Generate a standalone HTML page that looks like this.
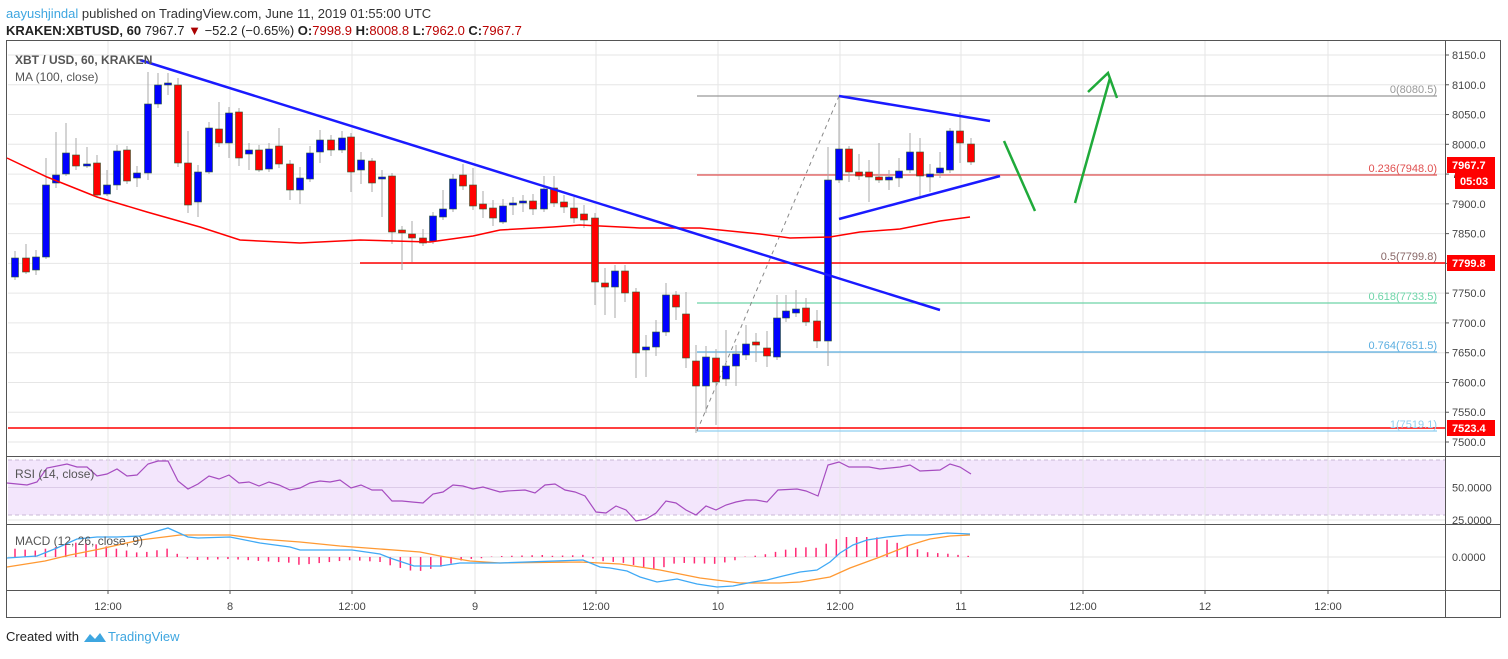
<!DOCTYPE html>
<html><head><meta charset="utf-8"><style>
body{margin:0;background:#fff;width:1508px;height:654px;overflow:hidden;font-family:"Liberation Sans",sans-serif}
</style></head><body>
<svg id="s" width="1508" height="654" xmlns="http://www.w3.org/2000/svg" font-family="Liberation Sans, sans-serif">
<text x="6" y="18" font-size="13" fill="#333"><tspan fill="#3ea6e0">aayushjindal</tspan> published on TradingView.com, June 11, 2019 01:55:00 UTC</text>
<text x="6" y="35" font-size="13" fill="#222"><tspan font-weight="bold">KRAKEN:XBTUSD, 60</tspan> 7967.7 <tspan fill="#a00">▼</tspan> −52.2 (−0.65%) <tspan font-weight="bold">O:</tspan><tspan fill="#b00">7998.9</tspan> <tspan font-weight="bold">H:</tspan><tspan fill="#b00">8008.8</tspan> <tspan font-weight="bold">L:</tspan><tspan fill="#b00">7962.0</tspan> <tspan font-weight="bold">C:</tspan><tspan fill="#b00">7967.7</tspan></text>
<rect x="6.5" y="40.5" width="1494" height="577" fill="none" stroke="#555"/>
<rect x="8" y="460" width="1437" height="55" fill="#f3e6fc"/>
<g id="grid"></g>
<g id="plot"></g>
<line x1="6" y1="456.5" x2="1501" y2="456.5" stroke="#555"/>
<line x1="6" y1="524.5" x2="1501" y2="524.5" stroke="#555"/>
<line x1="6" y1="590.5" x2="1501" y2="590.5" stroke="#555"/>
<line x1="1445.5" y1="40" x2="1445.5" y2="617" stroke="#555"/>
<text x="15" y="64" font-size="12" font-weight="bold" fill="#555">XBT / USD, 60, KRAKEN</text>
<text x="15" y="81" font-size="12" fill="#555">MA (100, close)</text>
<text x="15" y="478" font-size="12" fill="#555">RSI (14, close)</text>
<text x="15" y="545" font-size="12" fill="#555">MACD (12, 26, close, 9)</text>
<text x="6" y="641" font-size="13" fill="#222">Created with</text>
<path d="M84 642 l6 -8 l5 5 l5 -6 l6 9 z" fill="#3ea6e0"/>
<text x="108" y="641" font-size="13" fill="#3ea6e0">TradingView</text>
</svg>
<script>
const NS="http://www.w3.org/2000/svg",g=document.getElementById('grid'),p=document.getElementById('plot'),S=document.getElementById('s');
function el(par,t,a,txt){const e=document.createElementNS(NS,t);for(const k in a)e.setAttribute(k,a[k]);if(txt!=null)e.textContent=txt;par.appendChild(e);return e;}
const Y=v=>55+(8150-v)*0.5954;
// horizontal grid + labels
for(let v=8150;v>=7500;v-=50){const y=Y(v);el(g,'line',{x1:8,x2:1445,y1:y,y2:y,stroke:'#e6e6e6'});el(S,'line',{x1:1445,x2:1449,y1:y,y2:y,stroke:'#555'});el(S,'text',{x:1452,y:y+4,'font-size':11,fill:'#444'},v.toFixed(1));}
[[487.5,'50.0000'],[520,'25.0000'],[557,'0.0000']].forEach(([y,t])=>{el(g,'line',{x1:8,x2:1445,y1:y,y2:y,stroke:y==487.5?'#dccbe8':'#e6e6e6'});el(S,'text',{x:1452,y:y+4,'font-size':11,fill:'#444'},t);});
[460,515].forEach(y=>el(g,'line',{x1:8,x2:1445,y1:y,y2:y,stroke:'#c9b8d6','stroke-dasharray':'4,3'}));
const xs=[[108,'12:00'],[230,'8'],[352,'12:00'],[475,'9'],[596,'12:00'],[718,'10'],[840,'12:00'],[961,'11'],[1083,'12:00'],[1205,'12'],[1328,'12:00']];
xs.forEach(([x,t])=>{el(g,'line',{x1:x,x2:x,y1:41,y2:590,stroke:'#e6e6e6'});el(S,'line',{x1:x,x2:x,y1:590,y2:594,stroke:'#555'});el(S,'text',{x:x,y:610,'font-size':11,fill:'#444','text-anchor':'middle'},t);});
// level lines
el(p,'line',{x1:8,x2:1445,y1:428,y2:428,stroke:'#f00','stroke-width':1.6});
el(p,'line',{x1:360,x2:1445,y1:263,y2:263,stroke:'#f00','stroke-width':1.6});
[[96,'#999','0(8080.5)'],[175,'#e05050','0.236(7948.0)'],[303,'#6dd4a8','0.618(7733.5)'],[352,'#5aaee0','0.764(7651.5)'],[431,'#8fcff0','1(7519.1)']].forEach(([y,c,t])=>{el(p,'line',{x1:697,x2:1437,y1:y,y2:y,stroke:c,'stroke-width':1.2});el(p,'text',{x:1437,y:y-3,'font-size':11,fill:c,'text-anchor':'end'},t);});
el(p,'text',{x:1437,y:260,'font-size':11,fill:'#866','text-anchor':'end'},'0.5(7799.8)');
el(p,'line',{x1:697,y1:431,x2:839,y2:96,stroke:'#888','stroke-dasharray':'4,4'});
// candles [x,top,bot,color,hi,lo]
const C=[[15,258,277,'b',251,280],[26,258,272,'r',244,274],[36,257,270,'b',250,275],[46,185,257,'b',158,259],[56,175,183,'b',132,188],[66,153,174,'b',123,176],[76,155,166,'r',138,170],[87,164,165,'b',147,168],[97,163,195,'r',155,197],[107,185,194,'b',170,196],[117,151,185,'b',145,190],[127,150,181,'r',146,184],[137,173,178,'b',166,187],[148,104,173,'b',72,180],[158,85,104,'b',73,108],[168,83,84,'b',73,95],[178,85,163,'r',78,167],[188,163,205,'r',131,213],[198,172,202,'b',165,217],[209,128,172,'b',122,174],[219,129,143,'r',102,147],[229,113,143,'b',107,158],[239,112,158,'r',108,166],[249,150,154,'b',143,170],[259,150,170,'r',145,172],[269,149,169,'b',143,172],[279,146,164,'r',128,168],[290,164,190,'r',160,200],[300,178,190,'b',167,204],[310,153,179,'b',146,182],[320,140,152,'b',130,163],[331,140,150,'r',135,156],[342,138,150,'b',131,153],[351,137,172,'r',133,192],[361,160,170,'b',152,184],[372,161,183,'r',158,192],[382,177,179,'b',170,217],[392,176,232,'r',173,244],[402,230,233,'r',226,270],[412,234,238,'r',221,262],[423,238,243,'r',229,246],[433,216,241,'b',212,244],[443,209,217,'b',190,220],[453,179,209,'b',174,212],[463,175,186,'r',164,190],[473,185,206,'r',168,210],[483,204,209,'r',191,218],[493,208,218,'r',200,226],[503,206,222,'b',199,224],[513,203,205,'b',197,215],[523,201,203,'b',195,212],[533,201,209,'r',194,215],[544,189,209,'b',176,212],[554,188,203,'r',176,207],[564,202,207,'r',195,213],[574,208,218,'r',197,223],[584,214,220,'r',205,228],[595,218,282,'r',213,305],[605,283,287,'r',268,315],[615,271,287,'b',265,318],[625,271,293,'r',265,302],[636,292,353,'r',288,378],[646,347,350,'b',335,377],[656,332,347,'b',320,356],[666,295,332,'b',283,336],[676,295,307,'r',291,320],[686,314,358,'r',292,368],[696,361,386,'r',345,433],[706,357,386,'b',346,413],[716,358,382,'r',349,425],[726,366,379,'b',330,386],[736,354,366,'b',345,386],[746,344,355,'b',325,360],[756,342,345,'r',333,362],[767,348,356,'r',331,367],[777,318,357,'b',295,360],[786,311,318,'b',295,322],[796,309,313,'b',290,317],[806,308,322,'r',298,326],[817,321,341,'r',310,348],[828,180,341,'b',147,366],[839,149,180,'b',96,183],[849,149,172,'r',146,182],[859,172,176,'r',154,180],[869,172,177,'r',160,202],[879,177,180,'r',143,183],[889,177,180,'b',170,190],[899,171,178,'b',158,187],[910,152,170,'b',133,173],[920,152,176,'r',138,199],[930,174,177,'b',164,192],[940,168,173,'b',152,178],[950,131,170,'b',128,173],[960,131,143,'r',112,163],[971,144,162,'r',138,165]];
C.forEach(([x,t,b,c,h,l])=>{el(p,'line',{x1:x,x2:x,y1:h,y2:l,stroke:'#aaa'});el(p,'rect',{x:x-3.5,y:t,width:7,height:Math.max(b-t,2),fill:c=='b'?'#0000ff':'#ff0000',stroke:'#2e5a2e','stroke-width':0.6});});
function poly(pts,c,w){el(p,'polyline',{points:pts.map(a=>a.join(',')).join(' '),fill:'none',stroke:c,'stroke-width':w||1.2});}
poly([[7,158],[47,177],[97,197],[147,212],[200,227],[240,240],[300,243],[360,240],[430,242],[473,236],[500,230],[553,227],[580,225],[640,228],[700,228],[760,234],[790,238],[830,237],[860,232],[900,229],[940,221],[970,217]],'#f00',1.5);
// trendlines
el(p,'line',{x1:140,y1:60,x2:940,y2:310,stroke:'#1a1aff','stroke-width':2.5});
el(p,'line',{x1:839,y1:96,x2:990,y2:121,stroke:'#1a1aff','stroke-width':2.5});
el(p,'line',{x1:839,y1:219,x2:1000,y2:176,stroke:'#1a1aff','stroke-width':2.5});
// arrows
el(p,'line',{x1:1004,y1:141,x2:1035,y2:211,stroke:'#1faa3a','stroke-width':2.5});
el(p,'polyline',{points:'1075,203 1110,78',fill:'none',stroke:'#1faa3a','stroke-width':2.5});
el(p,'polyline',{points:'1088,92 1108,73 1117,98',fill:'none',stroke:'#1faa3a','stroke-width':2.5});
// RSI
poly([[7,483],[27,485],[37,482],[47,468],[67,464],[77,467],[87,467],[97,476],[107,474],[117,469],[127,476],[137,475],[148,464],[158,461],[168,461],[178,481],[188,489],[198,484],[209,476],[219,479],[229,475],[239,483],[249,482],[259,486],[269,482],[279,485],[290,490],[300,488],[310,483],[320,481],[330,482],[340,480],[351,488],[361,485],[372,490],[382,490],[392,501],[402,501],[412,502],[423,503],[433,494],[443,492],[453,485],[463,486],[473,489],[483,487],[500,492],[507,491],[525,490],[535,493],[545,485],[555,484],[565,490],[575,492],[585,496],[596,512],[606,513],[616,506],[626,510],[636,521],[646,519],[656,513],[666,501],[676,503],[686,510],[696,515],[706,506],[716,510],[726,505],[736,502],[746,500],[756,500],[767,502],[778,490],[797,489],[806,491],[818,496],[828,465],[839,462],[849,467],[869,467],[880,469],[900,467],[910,465],[920,471],[940,470],[950,464],[960,467],[971,474]],'#a64cc0',1.2);
// MACD
const B=[[7,558],[37,556],[57,548],[77,539],[97,537],[117,537],[140,536],[168,528],[188,537],[198,538],[230,537],[260,543],[290,547],[300,550],[352,550],[380,554],[390,558],[414,566],[440,566],[460,563],[500,563],[583,560],[600,567],[610,568],[627,571],[640,577],[657,582],[677,579],[697,584],[717,587],[733,586],[753,582],[767,580],[783,576],[800,572],[817,570],[830,562],[840,553],[853,545],[867,540],[887,537],[907,535],[927,535],[947,533],[970,534]];
const O=[[7,567],[45,561],[70,555],[100,549],[140,540],[180,535],[230,535],[260,539],[300,542],[340,546],[380,549],[420,552],[440,556],[470,561],[500,563],[580,562],[620,564],[660,570],[700,578],[740,583],[780,583],[800,582],[830,577],[850,568],[880,557],[910,545],[930,539],[950,536],[970,535]];
function at(a,x){for(let i=1;i<a.length;i++)if(x<=a[i][0]){const[x0,y0]=a[i-1],[x1,y1]=a[i];return y0+(y1-y0)*(x-x0)/(x1-x0);}return a[a.length-1][1];}
for(let x=15;x<=971;x+=10.14){const d=at(O,x)-at(B,x);el(p,'line',{x1:x,x2:x,y1:557,y2:557-Math.max(Math.min(d,20),-20)*(Math.abs(d)<1?1:1)-(Math.abs(d)<1?1:0),stroke:'#ff2a75','stroke-width':1.5});}
poly(O,'#ff9933',1.3);poly(B,'#3fa9f5',1.3);
// price tags
[[157,'7967.7'],[255,'7799.8'],[420,'7523.4']].forEach(([y,t])=>{el(S,'rect',{x:1447,y:y,width:48,height:16,fill:'#f00'});el(S,'text',{x:1452,y:y+12,'font-size':11,fill:'#fff','font-weight':'bold'},t);});
el(S,'rect',{x:1455,y:173,width:40,height:16,fill:'#f00'});el(S,'text',{x:1460,y:185,'font-size':11,fill:'#fff','font-weight':'bold'},'05:03');
</script>
</body></html>
